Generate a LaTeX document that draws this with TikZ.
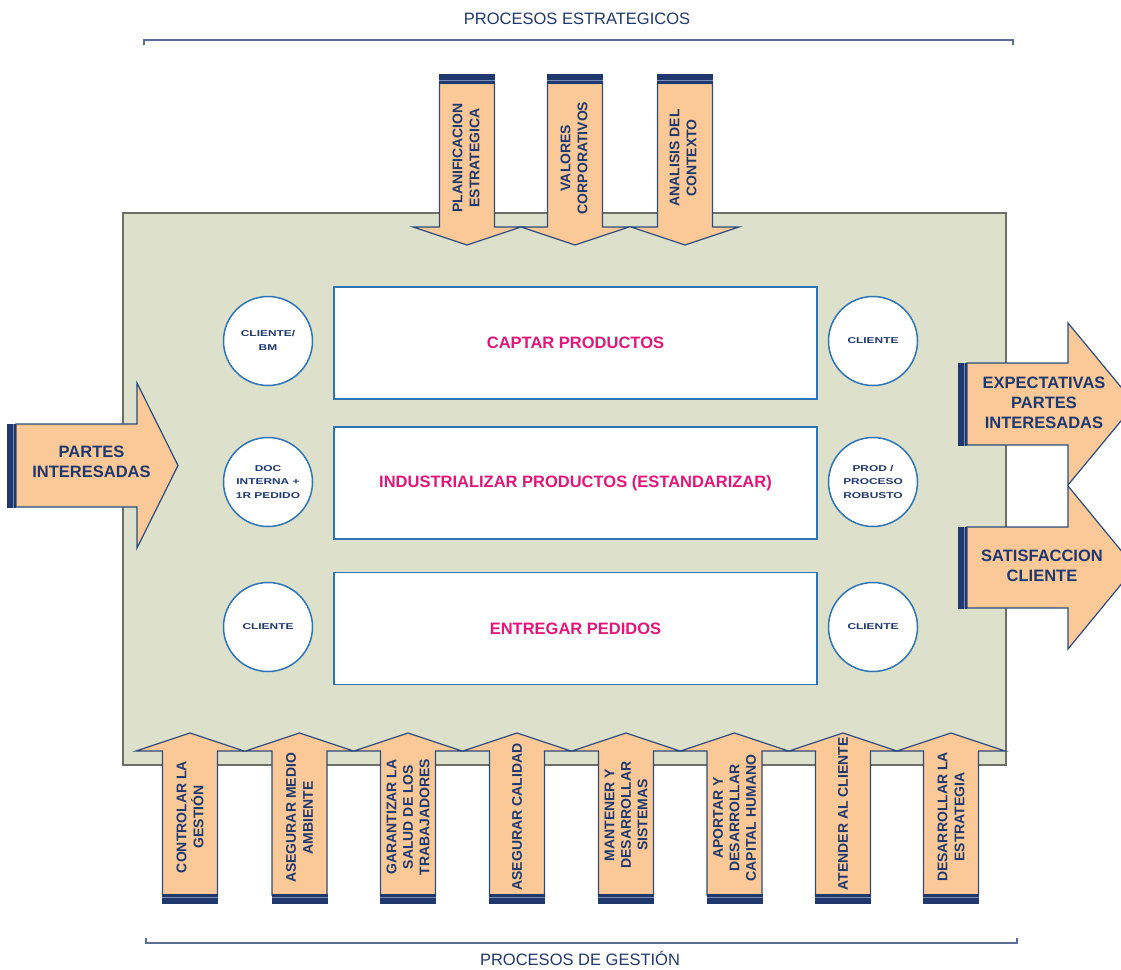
\documentclass[tikz,border=0pt]{standalone}
\usepackage{fontspec}
\setmainfont{Liberation Sans}
\definecolor{peach}{RGB}{251,201,152}
\definecolor{navy}{RGB}{31,56,110}
\definecolor{navyline}{RGB}{45,75,125}
\definecolor{bandlight}{RGB}{120,140,180}
\definecolor{bgc}{RGB}{221,225,204}
\definecolor{framec}{RGB}{110,110,105}
\definecolor{boxblue}{RGB}{46,117,182}
\definecolor{mag}{RGB}{226,22,122}
\definecolor{brk}{RGB}{90,110,150}
\newcommand\ctxt[1]{\scalebox{1.4}[1]{\begin{tabular}{@{}c@{}}#1\end{tabular}}}
\begin{document}
\begin{tikzpicture}[x=1pt,y=-1pt,
  arr/.style={fill=peach,draw=navyline,line width=1.2pt,line join=miter},
  bandst/.style={fill=navy,draw=none},
  bandline/.style={draw=bandlight,line width=0.7pt},
  big/.style={font=\bfseries\fontsize{16.5}{20}\selectfont,text=navy,align=center,inner sep=0},
  vtxt/.style={font=\bfseries\fontsize{14}{17}\selectfont,text=navy,align=center,rotate=90,inner sep=0},
  proc/.style={draw=boxblue,line width=1.5pt,fill=white,minimum width=483,minimum height=112,inner sep=0,font=\bfseries\fontsize{16.5}{20}\selectfont,text=mag},
  circ/.style={circle,draw=boxblue,line width=1.5pt,fill=white,minimum size=89,inner sep=0,font=\bfseries\fontsize{8.5}{13.5}\selectfont,text=navy},
  titlest/.style={font=\fontsize{16.5}{20}\selectfont,text=navy,inner sep=0},
  brkst/.style={draw=brk,line width=2pt}
]
\useasboundingbox (0,0) rectangle (1121,969);
\clip (0,0) rectangle (1121,969);

% titles and brackets
\node[titlest] (t1) at (577,19) {PROCESOS ESTRATEGICOS};
\draw[brkst] (144,45) -- (144,40) -- (1013,40) -- (1013,45);
\node[titlest] (t2) at (580,958) {PROCESOS DE GESTIÓN};
\draw[brkst] (146,938) -- (146,943) -- (1017,943) -- (1017,938);

% main area
\draw[fill=bgc,draw=framec,line width=2pt] (123,213) rectangle (1006,765);

% process boxes
\node[proc] (p1) at (575.5,343) {CAPTAR PRODUCTOS};
\node[proc] (p2) at (575.5,483) {INDUSTRIALIZAR PRODUCTOS (ESTANDARIZAR)};
\node[proc] (p3) at (575.5,628.5) {ENTREGAR PEDIDOS};

% circles
\node[circ] (c1) at (268,341) {\ctxt{CLIENTE/\\BM}};
\node[circ] (c2) at (268,482) {\ctxt{DOC\\INTERNA +\\1R PEDIDO}};
\node[circ] (c3) at (268,627) {\ctxt{CLIENTE}};
\node[circ] (c4) at (873,341) {\ctxt{CLIENTE}};
\node[circ] (c5) at (873,482) {\ctxt{PROD /\\PROCESO\\ROBUSTO}};
\node[circ] (c6) at (873,627) {\ctxt{CLIENTE}};

% top (strategic) arrows
\foreach \cx in {467,575,685}{
  \draw[arr] ({\cx-27.5},83) -- ({\cx-27.5},227) -- ({\cx-54},227) -- (\cx,245)
     -- ({\cx+54},227) -- ({\cx+27.5},227) -- ({\cx+27.5},83) -- cycle;
  \fill[bandst] ({\cx-28},74) rectangle ({\cx+28},84);
  \draw[bandline] ({\cx-28},80.5) -- ({\cx+28},80.5);
}
\node[vtxt] (s1) at (466,158) {PLANIFICACION\\ESTRATEGICA};
\node[vtxt] (s2) at (574,158) {VALORES\\CORPORATIVOS};
\node[vtxt] (s3) at (683,158) {ANALISIS DEL\\CONTEXTO};

% bottom (management) arrows
\foreach \cx in {190,299.5,408,517,626,734.5,843,951}{
  \draw[arr] ({\cx-27.5},895) -- ({\cx-27.5},751) -- ({\cx-54},751) -- (\cx,733)
     -- ({\cx+54},751) -- ({\cx+27.5},751) -- ({\cx+27.5},895) -- cycle;
  \fill[bandst] ({\cx-28},894) rectangle ({\cx+28},904);
  \draw[bandline] ({\cx-28},897.5) -- ({\cx+28},897.5);
}
\node[vtxt] (g1) at (190,817) {CONTROLAR LA\\GESTIÓN};
\node[vtxt] (g2) at (299.5,818) {ASEGURAR MEDIO\\AMBIENTE};
\node[vtxt,font=\bfseries\fontsize{14}{16.5}\selectfont] (g3) at (408,817) {GARANTIZAR LA\\SALUD DE LOS\\TRABAJADORES};
\node[vtxt] (g4) at (517,817) {ASEGURAR CALIDAD};
\node[vtxt,font=\bfseries\fontsize{14}{16.5}\selectfont] (g5) at (626,815) {MANTENER Y\\DESARROLLAR\\SISTEMAS};
\node[vtxt,font=\bfseries\fontsize{14}{16.5}\selectfont] (g6) at (734.5,818) {APORTAR Y\\DESARROLLAR\\CAPITAL HUMANO};
\node[vtxt] (g7) at (843,814) {ATENDER AL CLIENTE};
\node[vtxt] (g8) at (951,817) {DESARROLLAR LA\\ESTRATEGIA};

% left input arrow
\draw[arr] (16,424) -- (137,424) -- (137,383) -- (178,465.5) -- (137,548) -- (137,507) -- (16,507) -- cycle;
\fill[bandst] (7,423.5) rectangle (16,507.5);
\draw[bandline] (13,423.5) -- (13,507.5);
\node[big] (in1) at (91.5,462) {PARTES\\INTERESADAS};

% right output arrows
\draw[arr] (967,363) -- (1068,363) -- (1068,323) -- (1135,404) -- (1068,485) -- (1068,445) -- (967,445) -- cycle;
\fill[bandst] (958,362.5) rectangle (967,445.5);
\draw[bandline] (964,362.5) -- (964,445.5);
\node[big] (out1) at (1044,403) {EXPECTATIVAS\\PARTES\\INTERESADAS};

\draw[arr] (967,527) -- (1068,527) -- (1068,486) -- (1135,567.5) -- (1068,649) -- (1068,608) -- (967,608) -- cycle;
\fill[bandst] (958,526.5) rectangle (967,608.5);
\draw[bandline] (964,526.5) -- (964,608.5);
\node[big] (out2) at (1042,566) {SATISFACCION\\CLIENTE};
\end{tikzpicture}
\end{document}
